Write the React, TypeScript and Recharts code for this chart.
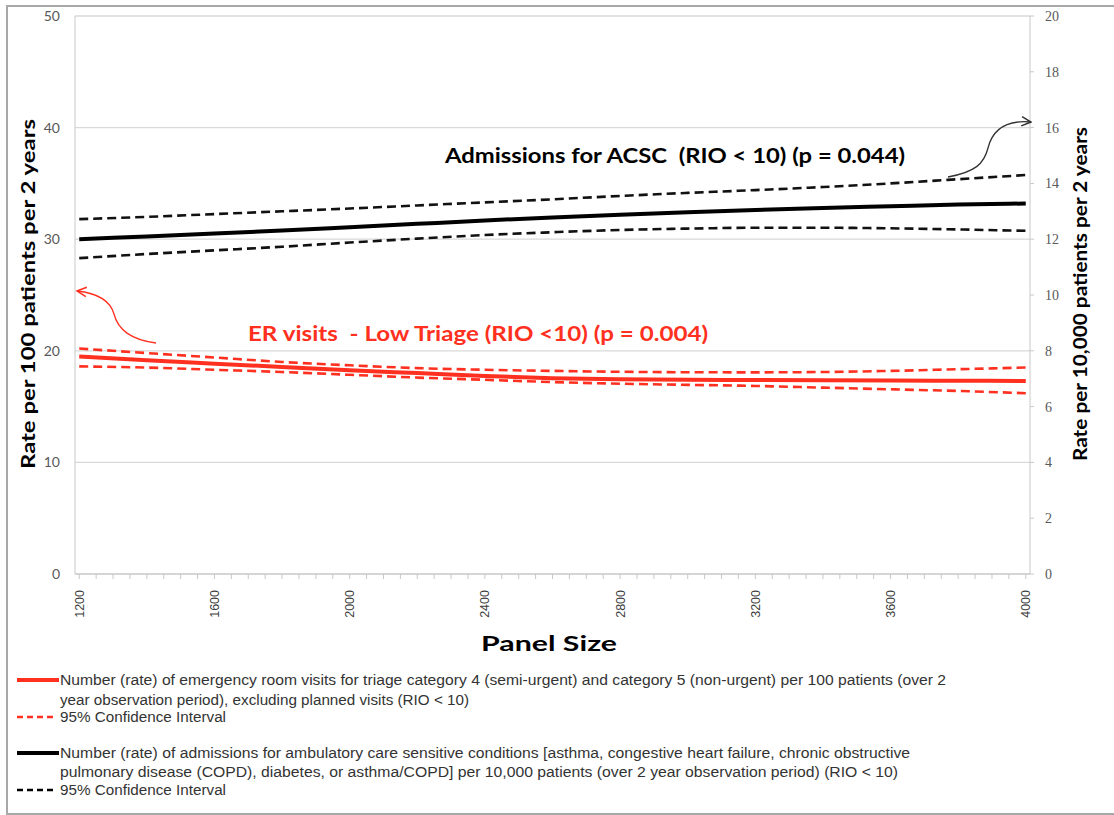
import React from "react";
import {
  LineChart,
  Line,
  XAxis,
  YAxis,
  CartesianGrid,
} from "recharts";

// panel size (x) values
const panelSize = [1200, 1400, 1600, 1800, 2000, 2200, 2400, 2600, 2800, 3000, 3200, 3400, 3600, 3800, 4000];

// ER visits, low triage — per 100 patients (left axis)
const erRate = [19.5, 19.15, 18.85, 18.55, 18.25, 18.0, 17.75, 17.55, 17.45, 17.4, 17.38, 17.35, 17.33, 17.32, 17.3];
const erUpper = [20.2, 19.8, 19.4, 19.0, 18.7, 18.45, 18.3, 18.2, 18.12, 18.08, 18.07, 18.1, 18.2, 18.35, 18.5];
const erLower = [18.6, 18.5, 18.3, 18.1, 17.85, 17.6, 17.4, 17.2, 17.05, 16.95, 16.85, 16.7, 16.55, 16.4, 16.2];

// ACSC admissions — per 10,000 patients (right axis)
const acscRate = [12.0, 12.1, 12.2, 12.31, 12.43, 12.55, 12.67, 12.78, 12.88, 12.97, 13.05, 13.12, 13.18, 13.24, 13.28];
const acscUpper = [12.72, 12.8, 12.9, 13.0, 13.1, 13.21, 13.32, 13.43, 13.55, 13.66, 13.76, 13.87, 14.0, 14.15, 14.3];
const acscLower = [11.32, 11.47, 11.6, 11.73, 11.88, 12.02, 12.15, 12.25, 12.33, 12.38, 12.41, 12.41, 12.39, 12.35, 12.3];

const leftTicks = [0, 10, 20, 30, 40, 50];
const rightTicks = [0, 2, 4, 6, 8, 10, 12, 14, 16, 18, 20];
const xLabelTicks = [1200, 1600, 2000, 2400, 2800, 3200, 3600, 4000];
const xMinorTicks = Array.from({ length: 57 }, (_, i) => 1200 + i * 50);

const data = panelSize.map((x, i) => ({
  x,
  erRate: erRate[i],
  erUpper: erUpper[i],
  erLower: erLower[i],
  acscRate: acscRate[i],
  acscUpper: acscUpper[i],
  acscLower: acscLower[i],
}));

const RED = "#ff3020";
const AXIS = "#c8c8c8";
const SANS = "Liberation Sans, Arial, sans-serif";
const BOLD = "Lato, sans-serif";

const XTick = (props: any) => {
  const { x, y, payload } = props;
  if (!xLabelTicks.includes(payload.value)) return null;
  const tx = x + 4.5;
  const ty = y + 9;
  return (
    <text
      x={tx}
      y={ty}
      transform={`rotate(-90 ${tx} ${ty})`}
      textAnchor="end"
      fontFamily={SANS}
      fontSize={12.5}
      fill="#404040"
    >
      {payload.value}
    </text>
  );
};

// legend lines: [text, baseline y, width]
const legendLines: Array<[string, number, number]> = [
  ["Number (rate) of emergency room visits for triage category 4 (semi-urgent) and category 5 (non-urgent) per 100 patients (over 2", 685, 886],
  ["year observation period), excluding planned visits (RIO < 10)", 705, 409],
  ["95% Confidence Interval", 722, 166],
  ["Number (rate) of admissions for ambulatory care sensitive conditions [asthma, congestive heart failure, chronic obstructive", 758, 850],
  ["pulmonary disease (COPD), diabetes, or asthma/COPD] per 10,000 patients (over 2 year observation period) (RIO < 10)", 777, 838],
  ["95% Confidence Interval", 795, 166],
];

export default function App() {
  return (
    <div style={{ position: "absolute", left: 0, top: 0, width: 1114, height: 815, background: "#fff", overflow: "hidden" }}>
      {/* outer frame */}
      <div
        style={{
          position: "absolute",
          left: 6,
          top: 5,
          width: 1120,
          height: 806,
          border: "2px solid #a8a8a8",
        }}
      />

      <div style={{ position: "absolute", left: 0, top: 0 }}>
        <LineChart width={1114} height={660} data={data} margin={{ top: 16, right: 24, bottom: 36, left: 15 }}>
          <CartesianGrid yAxisId="left" vertical={false} stroke="#d9d9d9" strokeWidth={1.3} />
          <XAxis
            dataKey="x"
            type="number"
            domain={[1187.5, 4012.5]}
            ticks={xMinorTicks}
            interval={0}
            tick={<XTick />}
            tickSize={5}
            stroke={AXIS}
            height={50}
          />
          <YAxis
            yAxisId="left"
            domain={[0, 50]}
            ticks={leftTicks}
            interval={0}
            width={60}
            tickLine={false}
            tickSize={8}
            tickMargin={7}
            stroke={AXIS}
            tick={{ fontFamily: BOLD, fontSize: 14, fill: "#595959" }}
          />
          <YAxis
            yAxisId="right"
            orientation="right"
            domain={[0, 20]}
            ticks={rightTicks}
            interval={0}
            width={60}
            tickSize={4}
            tickMargin={11}
            stroke={AXIS}
            tick={{ fontFamily: "Liberation Serif, serif", fontSize: 14, fill: "#595959" }}
          />

          <Line yAxisId="right" type="monotone" dataKey="acscUpper" stroke="#111" strokeWidth={2.6} strokeDasharray="9 5" dot={false} isAnimationActive={false} />
          <Line yAxisId="right" type="monotone" dataKey="acscLower" stroke="#111" strokeWidth={2.6} strokeDasharray="9 5" dot={false} isAnimationActive={false} />
          <Line yAxisId="right" type="monotone" dataKey="acscRate" stroke="#000" strokeWidth={4} dot={false} isAnimationActive={false} />

          <Line yAxisId="left" type="monotone" dataKey="erUpper" stroke={RED} strokeWidth={2.6} strokeDasharray="9 5" dot={false} isAnimationActive={false} />
          <Line yAxisId="left" type="monotone" dataKey="erLower" stroke={RED} strokeWidth={2.6} strokeDasharray="9 5" dot={false} isAnimationActive={false} />
          <Line yAxisId="left" type="monotone" dataKey="erRate" stroke={RED} strokeWidth={4} dot={false} isAnimationActive={false} />
        </LineChart>
      </div>

      {/* axis titles, annotations and legend */}
      <svg width={1114} height={815} style={{ position: "absolute", left: 0, top: 0, pointerEvents: "none" }}>
        <defs>
          <marker id="arrRed" viewBox="0 0 10 10" refX="9" refY="5" markerWidth="9" markerHeight="9" orient="auto">
            <path d="M1,1 L9,5 L1,9" fill="none" stroke={RED} strokeWidth={1.3} />
          </marker>
          <marker id="arrBlack" viewBox="0 0 10 10" refX="9" refY="5" markerWidth="9" markerHeight="9" orient="auto">
            <path d="M1,1 L9,5 L1,9" fill="none" stroke="#333" strokeWidth={1.3} />
          </marker>
        </defs>

        <text
          x={35}
          y={294}
          transform="rotate(-90 35 294)"
          textAnchor="middle"
          fontFamily={BOLD}
          fontWeight={700}
          fontSize={18}
          textLength={350}
          lengthAdjust="spacingAndGlyphs"
        >
          Rate per 100 patients per 2 years
        </text>
        <text
          x={1087}
          y={294}
          transform="rotate(-90 1087 294)"
          textAnchor="middle"
          fontFamily={BOLD}
          fontWeight={700}
          fontSize={18}
          textLength={334}
          lengthAdjust="spacingAndGlyphs"
        >
          Rate per 10,000 patients per 2 years
        </text>
        <text x={549} y={651} textAnchor="middle" fontFamily={BOLD} fontWeight={700} fontSize={21} textLength={136} lengthAdjust="spacingAndGlyphs">
          Panel Size
        </text>

        <text x={445} y={163} fontFamily={BOLD} fontWeight={700} fontSize={21} fill="#000" xmlSpace="preserve" textLength={460} lengthAdjust="spacingAndGlyphs">
          Admissions for ACSC  (RIO &lt; 10) (p = 0.044)
        </text>
        <text x={248} y={341} fontFamily={BOLD} fontWeight={700} fontSize={21} fill={RED} xmlSpace="preserve" textLength={460} lengthAdjust="spacingAndGlyphs">
          ER visits  - Low Triage (RIO &lt;10) (p = 0.004)
        </text>
        <path
          d="M156,343 C132,340 118,330 114,314 C110,300 96,293 77,291"
          fill="none"
          stroke={RED}
          strokeWidth={1.3}
          markerEnd="url(#arrRed)"
        />
        <path
          d="M948,177 C975,172 984,164 988,148 C993,128 1008,120 1031,122"
          fill="none"
          stroke="#333"
          strokeWidth={1.3}
          markerEnd="url(#arrBlack)"
        />

        {/* legend swatches */}
        <line x1={17} y1={680} x2={59} y2={680} stroke={RED} strokeWidth={4} />
        <line x1={17} y1={717} x2={57} y2={717} stroke={RED} strokeWidth={2.5} strokeDasharray="6 4" />
        <line x1={17} y1={753} x2={59} y2={753} stroke="#000" strokeWidth={4} />
        <line x1={17} y1={790} x2={57} y2={790} stroke="#000" strokeWidth={2.5} strokeDasharray="6 4" />
        {legendLines.map(([t, y, w], i) => (
          <text key={i} x={60} y={y} fontFamily={SANS} fontSize={14} fill="#333" textLength={w} lengthAdjust="spacingAndGlyphs">
            {t}
          </text>
        ))}
      </svg>
    </div>
  );
}
